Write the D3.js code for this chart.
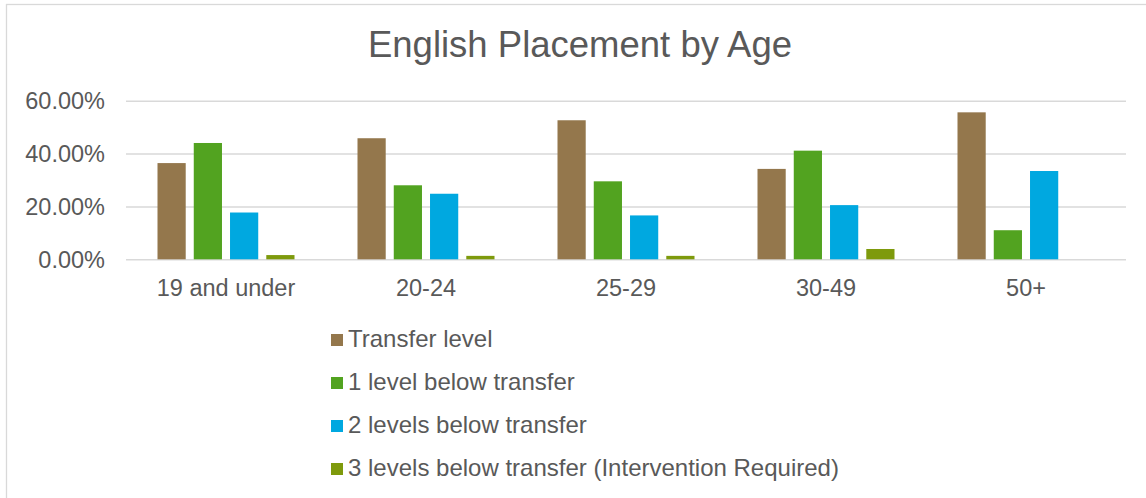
<!DOCTYPE html>
<html>
<head>
<meta charset="utf-8">
<script src="https://cdn.jsdelivr.net/npm/d3@7"></script>
<style>
  body { margin: 0; background: #fff; }
  text { font-family: "Liberation Sans", Arial, sans-serif; fill: #595959; }
</style>
</head>
<body>
<script>
const WIDTH = 1146;
const HEIGHT = 498;

// chart data
const categories = ["19 and under", "20-24", "25-29", "30-49", "50+"];
const seriesNames = ["Transfer level", "1 level below transfer", "2 levels below transfer", "3 levels below transfer (Intervention Required)"];
const transferLevel = [0.364, 0.458, 0.526, 0.342, 0.556];
const oneBelow = [0.440, 0.280, 0.295, 0.411, 0.110];
const twoBelow = [0.177, 0.248, 0.166, 0.205, 0.334];
const threeBelow = [0.016, 0.013, 0.013, 0.039, 0];
const yTicks = [0, 0.2, 0.4, 0.6];
const colors = ["#94774C", "#52A320", "#00A8E0", "#7E9A0C"];

const PLOT_LEFT = 126, PLOT_RIGHT = 1126;
const PLOT_TOP = 100.7, PLOT_BOTTOM = 259.3;

runMe = () => {
    let svg = d3.select("body").append("svg")
        .attr("width", WIDTH)
        .attr("height", HEIGHT);

    // chart border (only top and left show in the picture)
    svg.append("rect")
        .attr("x", 6.5).attr("y", 4.5)
        .attr("width", 1300).attr("height", 600)
        .attr("fill", "none")
        .attr("stroke", "#d9d9d9")
        .attr("stroke-width", 1.3);

    svg.append("text")
        .attr("x", 580).attr("y", 57)
        .attr("text-anchor", "middle")
        .style("font-size", "36.5px")
        .text("English Placement by Age");

    let series = [transferLevel, oneBelow, twoBelow, threeBelow];

    let x0 = d3.scaleBand()
        .domain(categories)
        .range([PLOT_LEFT, PLOT_RIGHT])
        .paddingInner(0.315)
        .paddingOuter(0.1575);

    let x1 = d3.scaleBand()
        .domain(d3.range(series.length))
        .range([0, x0.bandwidth()])
        .paddingInner(0.222);

    let y = d3.scaleLinear()
        .domain([0, 0.6])
        .range([PLOT_BOTTOM, PLOT_TOP]);

    // gridlines
    let grid = svg.append("g")
        .attr("transform", "translate(" + PLOT_LEFT + ",0)")
        .call(d3.axisLeft(y).tickValues(yTicks).tickFormat("").tickSize(-(PLOT_RIGHT - PLOT_LEFT)));
    grid.select(".domain").remove();
    grid.selectAll("line").attr("stroke", "#d9d9d9").attr("stroke-width", 1.5);

    // y axis labels
    let yAxis = svg.append("g")
        .attr("transform", "translate(" + (PLOT_LEFT - 21) + ",0)")
        .call(d3.axisLeft(y).tickValues(yTicks).tickFormat(d3.format(".2%")).tickSize(0).tickPadding(0));
    yAxis.select(".domain").remove();
    yAxis.selectAll("text")
        .style("font-size", "23.5px")
        .attr("font-family", null)
        .attr("fill", "#595959")
        .attr("dy", "0.35em");

    // bars
    let groups = svg.append("g").selectAll("g")
        .data(categories)
        .join("g")
        .attr("transform", d => "translate(" + x0(d) + ",0)");

    groups.selectAll("rect")
        .data((d, i) => series.map((s, k) => ({ k: k, v: s[i] })))
        .join("rect")
        .attr("x", d => x1(d.k))
        .attr("y", d => y(d.v))
        .attr("width", x1.bandwidth())
        .attr("height", d => y(0) - y(d.v))
        .attr("fill", d => colors[d.k]);

    // x axis labels
    let xAxis = svg.append("g")
        .attr("transform", "translate(0," + PLOT_BOTTOM + ")")
        .call(d3.axisBottom(x0).tickSize(0).tickPadding(0));
    xAxis.select(".domain").remove();
    xAxis.selectAll("text")
        .style("font-size", "23.5px")
        .attr("font-family", null)
        .attr("fill", "#595959")
        .attr("dy", null)
        .attr("y", 37);

    // legend
    let legend = svg.append("g").selectAll("g")
        .data(seriesNames)
        .join("g")
        .attr("transform", (d, i) => "translate(331," + (346.7 + i * 43) + ")");

    legend.append("rect")
        .attr("x", 0).attr("y", -12.7)
        .attr("width", 12).attr("height", 12)
        .attr("fill", (d, i) => colors[i]);

    legend.append("text")
        .attr("x", 17)
        .style("font-size", "24px")
        .text(d => d);
}

runMe();
</script>
</body>
</html>
